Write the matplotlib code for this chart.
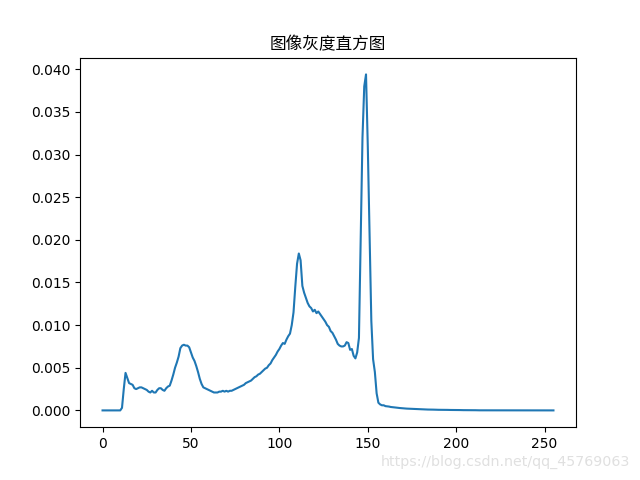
import matplotlib
matplotlib.use("Agg")
import matplotlib.pyplot as plt
import numpy as np

title_text = "图像灰度直方图"
watermark = "https://blog.csdn.net/qq_45769063"

gray_levels = list(range(256))

hist_0_59 = [
    0, 0, 0, 0, 0, 0, 0, 0, 0, 0,
    0, 0.0003, 0.0025, 0.0044, 0.0038, 0.0032, 0.0031, 0.0030, 0.0026, 0.0025,
    0.0026, 0.0027, 0.0027, 0.0026, 0.0025, 0.0024, 0.0022, 0.0021, 0.0023, 0.0021,
    0.0021, 0.0024, 0.0026, 0.0026, 0.0024, 0.0023, 0.0026, 0.0028, 0.0029, 0.0035,
    0.0042, 0.0050, 0.0056, 0.0063, 0.0073, 0.0076, 0.0077, 0.0076, 0.0076, 0.0074,
    0.0068, 0.0062, 0.0058, 0.0052, 0.0045, 0.0037, 0.0031, 0.0027, 0.0026, 0.0025,
]
hist_60_119 = [
    0.0024, 0.0023, 0.0022, 0.0021, 0.0021, 0.0021, 0.0022, 0.0022, 0.0023, 0.0022,
    0.0023, 0.0022, 0.0023, 0.0023, 0.0024, 0.0025, 0.0026, 0.0027, 0.0028, 0.0029,
    0.0030, 0.0032, 0.0033, 0.0034, 0.0035, 0.0037, 0.0039, 0.0040, 0.0042, 0.0043,
    0.0045, 0.0047, 0.0049, 0.0050, 0.0053, 0.0055, 0.0059, 0.0062, 0.0065, 0.0069,
    0.0072, 0.0076, 0.0079, 0.0078, 0.0083, 0.0087, 0.0090, 0.0100, 0.0115, 0.0145,
    0.0172, 0.0184, 0.0176, 0.0146, 0.0138, 0.0132, 0.0126, 0.0122, 0.0120, 0.0116,
]
hist_120_179 = [
    0.0118, 0.0114, 0.0116, 0.0113, 0.0110, 0.0107, 0.0104, 0.0100, 0.0098, 0.0093,
    0.0091, 0.0087, 0.0083, 0.0078, 0.0076, 0.0075, 0.0075, 0.0076, 0.0080, 0.0079,
    0.0071, 0.0072, 0.0064, 0.0061, 0.0068, 0.0085, 0.0200, 0.0320, 0.0380, 0.0394,
    0.0310, 0.0210, 0.0105, 0.0060, 0.0045, 0.0020, 0.0009, 0.0007, 0.0006, 0.0006,
    0.00050, 0.00048, 0.00045, 0.00040, 0.00038, 0.00035, 0.00033, 0.00030, 0.00028, 0.00026,
    0.00024, 0.00022, 0.00021, 0.00020, 0.00018, 0.00017, 0.00016, 0.00015, 0.00014, 0.00013,
]
hist_180_255 = [
    0.00012, 0.00012, 0.00011, 0.00011, 0.00010, 0.00010, 0.00009, 0.00009, 0.00008, 0.00008,
    0.00007, 0.00007, 0.00007, 0.00006, 0.00006, 0.00006, 0.00005, 0.00005, 0.00005, 0.00004,
    0.00004, 0.00004, 0.00004, 0.00003, 0.00003, 0.00003, 0.00003, 0.00002, 0.00002, 0.00002,
    0.00002, 0.00002, 0.00001, 0.00001, 0.00001, 0.00001, 0.00001, 0.00001, 0.00001, 0.00001,
    0.00001, 0.00001, 0.00001, 0.00001, 0.00001, 0, 0, 0, 0, 0,
    0, 0, 0, 0, 0, 0, 0, 0, 0, 0,
    0, 0, 0, 0, 0, 0, 0, 0, 0, 0,
    0, 0, 0, 0, 0, 0,
]
hist_values = hist_0_59 + hist_60_119 + hist_120_179 + hist_180_255

fig, ax = plt.subplots(figsize=(6.4, 4.8), dpi=100)
ax.plot(gray_levels, hist_values, color="#1f77b4", linewidth=1.5)
ax.set_title(title_text, family=["Noto Sans CJK SC", "DejaVu Sans"], fontsize=12)
fig.text(0.985, 0.03, watermark, ha="right", va="baseline", color="#e0e0e0", fontsize=10.3)
fig.savefig("out.png", dpi=100)
